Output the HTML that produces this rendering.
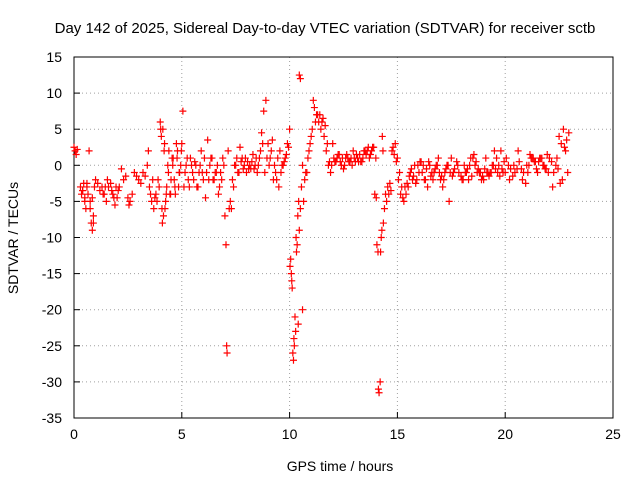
<!DOCTYPE html>
<html><head><meta charset="utf-8"><style>
body{margin:0;background:#fff}
svg text{font-family:"Liberation Sans",sans-serif;font-size:14px;fill:#000}
</style></head><body>
<svg id="chart" width="640" height="480" viewBox="0 0 640 480" xmlns="http://www.w3.org/2000/svg">
<rect width="640" height="480" fill="#fff"/>
<text x="325" y="33" text-anchor="middle" style="font-size:15px">Day 142 of 2025, Sidereal Day-to-day VTEC variation (SDTVAR) for receiver sctb</text>
<text x="340" y="471" text-anchor="middle">GPS time / hours</text>
<text x="18" y="238" text-anchor="middle" transform="rotate(-90 18 238)">SDTVAR / TECUs</text>
<g id="grid"></g><g id="axes"></g><g id="marks"></g>
</svg>
<script>
const xTicks=[0,5,10,15,20,25];
const yTicks=[15,10,5,0,-5,-10,-15,-20,-25,-30,-35];
const times=[0,0.05,0.1,0.15,0.3,0.35,0.4,0.45,0.5,0.55,0.6,0.65,0.7,0.75,0.8,0.85,0.9,0.95,1.0,0.85,
1.3,1.4,1.5,1.6,1.7,1.8,1.9,2.0,2.1,2.2,2.3,2.4,2.6,2.7,2.8,3.0,3.2,3.4,3.45,3.5,3.6,3.7,3.8,3.9,4.0,4.05,4.1,4.15,4.2,4.25,4.3,4.35,4.4,4.5,4.6,4.7,4.8,4.9,5.0,5.05,5.1,5.2,5.3,5.4,5.5,5.6,5.7,5.8,5.9,6.0,6.1,6.2,6.3,6.4,6.5,6.6,6.7,6.8,6.9,7.0,7.05,7.08,7.1,7.15,7.3,7.4,7.5,7.6,7.7,7.8,7.9,8.0,8.2,8.3,8.4,8.5,8.6,8.7,8.8,8.9,9.0,9.1,9.2,9.3,9.4,9.5,9.6,9.7,9.8,9.9,10.0,10.05,10.1,10.15,10.2,10.25,10.3,10.35,10.4,10.45,10.5,10.55,10.6,10.45,10.5,10.6,10.7,10.8,10.9,11.0,11.1,11.2,11.3,11.4,11.5,11.6,11.7,11.8,11.9,12.0,12.2,12.4,12.6,12.8,13.0,13.2,13.4,13.6,13.8,14.0,14.1,14.15,14.2,14.25,14.3,14.35,14.4,14.5,14.6,14.7,14.8,14.9,15.0,15.1,15.2,15.3,15.4,15.5,15.6,15.7,15.8,15.9,16.0,16.2,16.4,16.6,16.8,17.0,17.2,17.4,17.5,17.6,17.8,18.0,18.2,18.4,18.6,18.8,19.0,19.2,19.4,19.6,19.8,20.0,20.2,20.4,20.6,20.8,21.0,21.2,21.4,21.6,21.8,22.0,22.2,22.4,22.5,22.6,22.7,22.8,22.9,
4.12,4.22,4.45,4.55,4.65,4.75,4.85,4.95,10.02,10.08,10.12,10.18,10.22,10.28,10.32,10.38,10.42,14.05,14.12,14.22,14.28,14.33,12.1,12.3,12.5,12.7,12.9,13.1,13.3,13.5,13.7,13.9,16.1,16.3,16.5,16.7,16.9,17.1,17.3,18.1,18.3,18.5,18.7,18.9,19.1,19.3,19.5,19.7,19.9,21.1,21.3,21.5,21.7,21.9,11.05,11.15,11.25,11.35,11.45,
0.4,0.5,0.6,0.75,0.9,1.1,1.2,1.35,1.45,1.55,1.75,1.85,1.95,2.05,2.5,2.55,2.9,3.1,3.3,3.55,3.65,3.75,3.85,3.95,4.02,4.08,4.18,4.28,4.38,4.48,4.58,4.68,4.78,4.88,4.98,5.15,5.25,5.35,5.45,5.55,5.65,5.75,5.85,5.95,6.05,6.15,6.25,6.35,6.45,6.55,6.65,6.75,6.85,6.95,7.2,7.25,7.35,7.45,7.55,7.65,7.75,7.85,7.95,8.05,8.1,8.15,8.25,8.35,8.45,8.55,8.65,8.75,8.85,8.95,9.05,9.15,9.25,9.35,9.45,9.55,9.65,9.75,9.85,9.95,10.65,10.75,10.85,10.95,11.55,11.65,11.75,11.85,11.95,12.05,12.15,12.25,12.35,12.45,12.55,12.65,12.75,12.85,12.95,13.05,13.15,13.25,13.35,13.45,13.55,13.65,13.75,13.85,13.95,14.02,14.45,14.55,14.65,14.75,14.85,14.95,15.05,15.15,15.25,15.35,15.45,15.55,15.65,15.75,15.85,15.95,16.05,16.15,16.25,16.35,16.45,16.55,16.65,16.75,16.85,16.95,17.05,17.15,17.25,17.35,17.45,17.55,17.65,17.75,17.85,17.95,18.05,18.15,18.25,18.35,18.45,18.55,18.65,18.75,18.85,18.95,19.05,19.15,19.25,19.35,19.45,19.55,19.65,19.75,19.85,19.95,20.05,20.15,20.25,20.35,20.45,20.55,20.65,20.75,20.85,20.95,21.05,21.15,21.25,21.35,21.45,21.55,21.65,21.75,21.85,21.95,22.05,22.15,22.25,22.35,22.45,22.55,22.65,22.75,22.85,22.95];
const values=[2.5,2,1.5,2.2,-3,-4,-3.5,-2.5,-5,-6,-3,-4,2,-6,-8,-9,-7,-3,-2,-4.5,
-3,-4,-5,-3,-2.5,-4,-5.5,-4.5,-3,-0.5,-2,-1.5,-5,-4,-1,-2,-1,0,2,-3,-5,-6,-4,-2,6,4,-8,-7,3,-5,-3,0,2,-2,1,-4,2,-1,3,7.5,-3,0,-2,1,-1,0.5,-3,-1,2,-2,-4.5,3.5,0,1,-2,-1,-4,-1,1,-7,-11,-25,-26,2,-6,-3,0,-1,2.5,1,0,-1,-0.5,1.5,0,-1,1,4.5,7.5,9,3,1,3.5,0,-2,-3,-1,0,1,3,5,-13,-16,-26,-24,-21,-10,-11,-22,-9,-6,-3,-20,12.5,12,0,-2,-1,2,4,9,6,7,7,6,4,2,0,-1,3,1,0,1,0.5,1,0.5,1,2,2,1,-12,-31.5,-30,-10,4,-8,-6,-5,-4,-3.5,2.5,3,1,-1,-3,-5,-4,-3,-1,-2,0,-2,-1,0,-3,-1,0,-2,-1,-5,1,-1,0,-2,-1,1,0,-1,-2,-1,0,1,2,-1,-2,0,2,-2,0,1,0.5,1,0,-1,-3,1,4,3,5,2,-1,
5,-6,-4,1,-2,3,-3,0,-14,-15,-17,-27,-25,-23,-12,-7,-5,-11,-31,-12,-9,2,0.5,1.5,-0.5,1,0,1.5,0.5,2,1,2.5,0.5,-2,0,-1,1,-3,0,0,-2,1,-1,-2,1,-1,2,0,-1,0,1,-1,1,-0.5,5,8,7,6,5,
-3.5,-4.5,-2.5,-5,-8,-2.5,-3.5,-4,-3,-2,-3.5,-4.5,-3,-3.5,-4.5,-5.5,-1.5,-2.5,-1.5,-4,-2,-4.5,-5,-3,5,-6,2,-4,-1,-4,0,-3,1,-1,2,-1,1,-3,0,-2,0,-3,0,-1,1,-1,-2,1,-2,-1,0,-3,-2,0,-6,-5,-2,0,1,-1,0.5,-0.5,1,0.5,-0.5,0,0.5,-0.5,1,0,2,3,-1,1,0,2,-2,-1,1,2,0,0.5,1.5,2.5,-5,-1,1,3,6.5,5.5,3,0.5,0,1,0.5,1.5,0.5,1,0,1.5,0.5,1,2,0.5,1,1.5,0.5,2,1.5,2.5,1.5,2.5,-4,-4.5,-4,-3,-2.5,2,1.5,0.5,-2,-4,-4.5,-3,-2.5,-1.5,-0.5,-1.5,-2.5,0,0.5,-1,-2,-0.5,0.5,-1.5,-2,-0.5,0,-1,-1.5,-2,-0.5,0,-1,-1.5,-0.5,0.5,-1,-1.5,-2,-1,-0.5,0,-1.5,1.5,0.5,-0.5,-1,-1.5,-0.5,-1,-1.5,-1,0,-0.5,-1,-1.5,-0.5,0.5,1,0,-0.5,-1.5,-1,-0.5,0.5,-0.5,-1,-2.5,-1,1.5,1,0.5,-0.5,0.5,1,0,-0.5,1.5,1,0.5,-1,0,-0.5,-2.5,-2,2.5,3.5,4.5,3.5,4,1,0];
const NS="http://www.w3.org/2000/svg";
const L=74,R=613,T=57,B=418;
function xs(t){return L+(t-0)/(25-0)*(R-L);}
function ys(v){return T+(15-v)/(15+35)*(B-T);}
const grid=document.getElementById('grid'),axes=document.getElementById('axes'),marks=document.getElementById('marks');
function mk(tag,attrs,parent){const e=document.createElementNS(NS,tag);for(const k in attrs)e.setAttribute(k,attrs[k]);parent.appendChild(e);return e;}
xTicks.forEach(t=>{
 const x=xs(t);
 if(t>0&&t<25){const g=mk('line',{x1:x,x2:x,y1:T,y2:B,stroke:'#a0a0a0','stroke-dasharray':'1,3'},grid);
 
 }
 const tk=mk('line',{x1:x,x2:x,y1:B,y2:B-6,stroke:'#000'},axes);
 
 
 const tx=mk('text',{x:x,y:B+21,'text-anchor':'middle'},axes);tx.textContent=t;
 
 
});
yTicks.forEach(v=>{
 const y=ys(v);
 if(v<15&&v>-35){const g=mk('line',{x1:L,x2:R,y1:y,y2:y,stroke:'#a0a0a0','stroke-dasharray':'1,3'},grid);
 
 }
 const tk=mk('line',{x1:L,x2:L+6,y1:y,y2:y,stroke:'#000'},axes);
 
 
 const tx=mk('text',{x:L-12,y:y+5,'text-anchor':'end'},axes);tx.textContent=v;
 
 
});
const fr=mk('rect',{x:L,y:T,width:R-L,height:B-T,fill:'none',stroke:'#000'},axes);


times.forEach((t,i)=>{
 const x=xs(t),y=ys(values[i]);
 const p=mk('path',{d:`M${x-3.5},${y}H${x+3.5}M${x},${y-3.5}V${y+3.5}`,stroke:'#ff0000','stroke-width':1.2},marks);
 
 
});
</script>
</body></html>
